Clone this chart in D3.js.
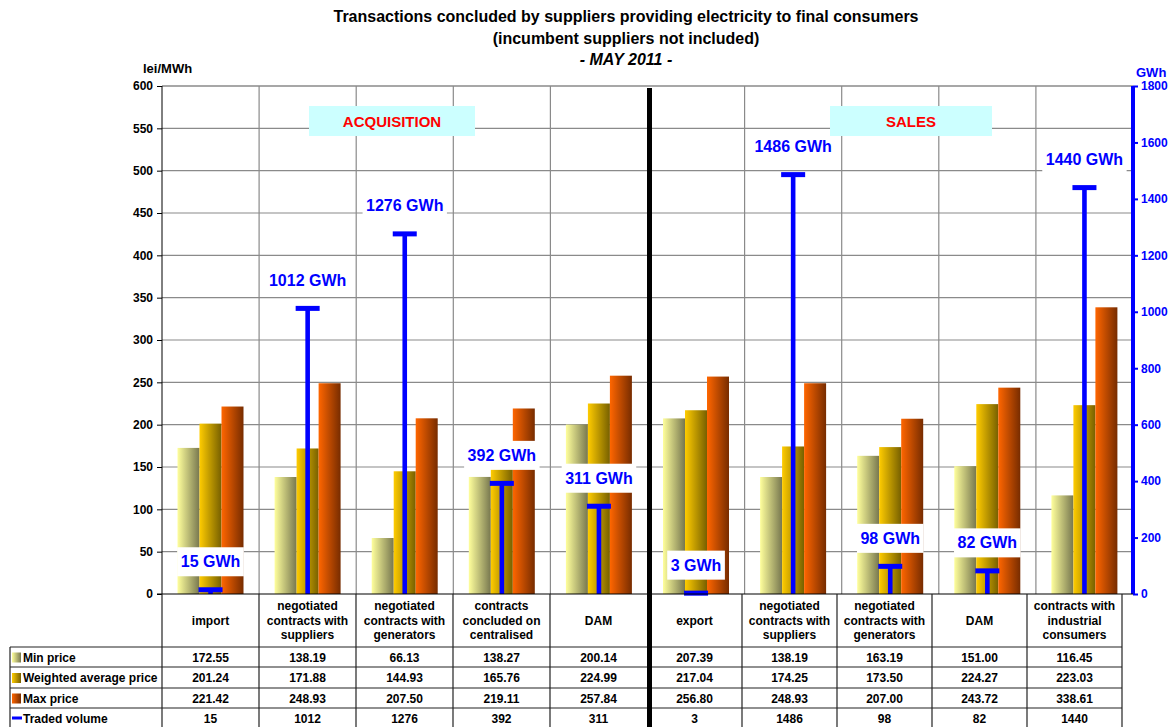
<!DOCTYPE html>
<html>
<head>
<meta charset="utf-8">
<script src="https://cdn.jsdelivr.net/npm/d3@7"></script>
<style>
  html, body { margin: 0; padding: 0; background: #fff; }
  svg { display: block; font-family: "Liberation Sans", Arial, sans-serif; }
</style>
</head>
<body>
<svg id="chart" width="1174" height="727"></svg>
<script>
// ---- data ----
const titleLines = [
  "Transactions concluded by suppliers providing electricity to final consumers",
  "(incumbent suppliers not included)",
  "- MAY 2011 -"
];
const sectionNames = ["ACQUISITION", "SALES"];
const categoryLines = [
  ["import"],
  ["negotiated", "contracts with", "suppliers"],
  ["negotiated", "contracts with", "generators"],
  ["contracts", "concluded on", "centralised"],
  ["DAM"],
  ["export"],
  ["negotiated", "contracts with", "suppliers"],
  ["negotiated", "contracts with", "generators"],
  ["DAM"],
  ["contracts with", "industrial", "consumers"]
];
const seriesNames = ["Min price", "Weighted average price", "Max price", "Traded volume"];
const minPrice = [172.55, 138.19, 66.13, 138.27, 200.14, 207.39, 138.19, 163.19, 151.00, 116.45];
const avgPrice = [201.24, 171.88, 144.93, 165.76, 224.99, 217.04, 174.25, 173.50, 224.27, 223.03];
const maxPrice = [221.42, 248.93, 207.50, 219.11, 257.84, 256.80, 248.93, 207.00, 243.72, 338.61];
const tradedVolume = [15, 1012, 1276, 392, 311, 3, 1486, 98, 82, 1440];
const priceTicks = [0, 50, 100, 150, 200, 250, 300, 350, 400, 450, 500, 550, 600];
const volumeTicks = [0, 200, 400, 600, 800, 1000, 1200, 1400, 1600, 1800];
const leftUnit = "lei/MWh";
const rightUnit = "GWh";

// ---- layout ----
const svg = d3.select("#chart");
const plotLeft = 162, plotRight = 1133, plotTop = 86, plotBottom = 594;
const tableRowTop = 647, rowH = [20, 21, 20, 20];
const blue = "#0000ff", grid = "#8a8a8a";

const idx = d3.range(categoryLines.length);
const x = d3.scaleBand().domain(idx).range([plotLeft, plotRight]);
const priceSeries = [minPrice, avgPrice, maxPrice];
const inner = d3.scaleBand().domain([0, 1, 2]).range([15.5, 81.5]);
const yL = d3.scaleLinear().domain([0, 600]).range([plotBottom, plotTop]);
const yR = d3.scaleLinear().domain([0, 1800]).range([plotBottom, plotTop]);

// table columns: acquisition half and sales half
const tA = d3.scaleBand().domain(d3.range(5)).range([162, 647]);
const tS = d3.scaleBand().domain(d3.range(5)).range([647, 1122]);
const tCol = i => i < 5 ? { x0: tA(i), w: tA.bandwidth() } : { x0: tS(i - 5), w: tS.bandwidth() };

// ---- gradients ----
const defs = svg.append("defs");
const gradColors = [["#ffff9c", "#77774f"], ["#ffcc00", "#776000"], ["#ff6600", "#772c00"]];
gradColors.forEach((c, i) => {
  const g = defs.append("linearGradient").attr("id", "g" + i)
    .attr("x1", 0).attr("x2", 1).attr("y1", 0).attr("y2", 0);
  g.append("stop").attr("offset", "0%").attr("stop-color", c[0]);
  g.append("stop").attr("offset", "100%").attr("stop-color", c[1]);
});

// ---- title ----
const titleY = [22, 44, 65];
svg.selectAll("text.title").data(titleLines).join("text")
  .attr("class", "title")
  .attr("x", 626).attr("y", (d, i) => titleY[i])
  .attr("text-anchor", "middle")
  .attr("font-size", 16).attr("font-weight", "bold")
  .attr("font-style", (d, i) => i === 2 ? "italic" : "normal")
  .text(d => d);

// ---- grid ----
const gGrid = svg.append("g");
gGrid.selectAll("line.h").data(priceTicks.filter(t => t > 0)).join("line")
  .attr("x1", plotLeft).attr("x2", plotRight)
  .attr("y1", d => yL(d)).attr("y2", d => yL(d))
  .attr("stroke", grid).attr("stroke-width", 1.2);
gGrid.selectAll("line.v").data(idx.slice(1).filter(i => i !== 5)).join("line")
  .attr("x1", d => x(d)).attr("x2", d => x(d))
  .attr("y1", plotTop).attr("y2", plotBottom)
  .attr("stroke", grid).attr("stroke-width", 1.2);

// ---- price bars ----
const gBars = svg.append("g");
priceSeries.forEach((vals, s) => {
  gBars.selectAll("rect.s" + s).data(vals).join("rect")
    .attr("x", (d, i) => x(i) + inner(s))
    .attr("width", inner.bandwidth())
    .attr("y", d => yL(d))
    .attr("height", d => yL(0) - yL(d))
    .attr("fill", `url(#g${s})`);
});

// ---- traded volume markers ----
const gVol = svg.append("g");
const cx = i => x(i) + x.bandwidth() / 2;
gVol.selectAll("rect.stem").data(tradedVolume).join("rect")
  .attr("x", (d, i) => cx(i) - 2.3).attr("width", 4.6)
  .attr("y", d => yR(d)).attr("height", d => yR(0) - yR(d))
  .attr("fill", blue);
gVol.selectAll("rect.cap").data(tradedVolume).join("rect")
  .attr("x", (d, i) => cx(i) - 12).attr("width", 24)
  .attr("y", d => yR(d) - 2.5).attr("height", 5)
  .attr("fill", blue);

// labels with white boxes
const gLab = svg.append("g");
tradedVolume.forEach((v, i) => {
  const cy = yR(v) - 28;
  const g = gLab.append("g");
  const box = g.append("rect").attr("fill", "#fff");
  const t = g.append("text")
    .attr("x", cx(i)).attr("y", cy + 5.5)
    .attr("text-anchor", "middle")
    .attr("font-size", 16).attr("font-weight", "bold").attr("fill", blue)
    .text(v + " GWh");
  const w = t.node().getComputedTextLength() + 7;
  box.attr("x", cx(i) - w / 2).attr("width", w).attr("y", cy - 14.5).attr("height", 29);
});

// ---- section headers ----
const sectionBoxes = [{ x0: 309, x1: 475 }, { x0: 830, x1: 992 }];
sectionNames.forEach((name, i) => {
  const b = sectionBoxes[i];
  svg.append("rect").attr("x", b.x0).attr("y", 106).attr("width", b.x1 - b.x0).attr("height", 30)
    .attr("fill", "#ccffff");
  svg.append("text").attr("x", (b.x0 + b.x1) / 2).attr("y", 126.5)
    .attr("text-anchor", "middle").attr("font-size", 15).attr("font-weight", "bold")
    .attr("fill", "#ff0000").text(name);
});

// ---- plot frame and axes ----
svg.append("line").attr("x1", plotLeft).attr("x2", plotRight).attr("y1", plotTop).attr("y2", plotTop)
  .attr("stroke", grid).attr("stroke-width", 1.2);

const axL = svg.append("g").attr("transform", `translate(${plotLeft},0)`)
  .call(d3.axisLeft(yL).tickValues(priceTicks).tickFormat(d3.format("d")).tickSize(5).tickPadding(4));
axL.select(".domain").attr("stroke", "#000").attr("d", `M0,${plotTop}V${plotBottom}`);
axL.selectAll(".tick line").attr("stroke", "#000");
axL.selectAll("text").attr("font-size", 12).attr("font-weight", "bold")
  .attr("font-family", "Liberation Sans, Arial, sans-serif").attr("fill", "#000");

const axR = svg.append("g").attr("transform", `translate(${plotRight},0)`)
  .call(d3.axisRight(yR).tickValues(volumeTicks).tickFormat(d3.format("d")).tickSize(5).tickPadding(3));
axR.select(".domain").attr("stroke", blue).attr("stroke-width", 4).attr("d", `M0,${plotTop}V${plotBottom}`);
axR.selectAll(".tick line").attr("stroke", blue).attr("stroke-width", 2);
axR.selectAll("text").attr("font-size", 12).attr("font-weight", "bold")
  .attr("font-family", "Liberation Sans, Arial, sans-serif").attr("fill", blue);

svg.append("text").attr("x", 143).attr("y", 73).attr("font-size", 13).attr("font-weight", "bold")
  .text(leftUnit);
svg.append("text").attr("x", 1136).attr("y", 77).attr("font-size", 13).attr("font-weight", "bold")
  .attr("fill", blue).text(rightUnit);

// baseline
svg.append("line").attr("x1", plotLeft - 5).attr("x2", plotRight).attr("y1", plotBottom).attr("y2", plotBottom)
  .attr("stroke", "#000").attr("stroke-width", 1.2);

// ---- data table ----
const gT = svg.append("g");
const lineC = "#222";
const rowTops = [tableRowTop];
rowH.forEach(h => rowTops.push(rowTops[rowTops.length - 1] + h));
// horizontal rules
rowTops.forEach(y => {
  gT.append("line").attr("x1", 10).attr("x2", 1122).attr("y1", y).attr("y2", y)
    .attr("stroke", lineC).attr("stroke-width", 1.2);
});
// vertical rules
gT.append("line").attr("x1", 10).attr("x2", 10).attr("y1", tableRowTop).attr("y2", 727)
  .attr("stroke", lineC).attr("stroke-width", 1.2);
const colEdges = [162, ...d3.range(1, 5).map(i => tA(i)), ...d3.range(1, 5).map(i => tS(i)), 1122];
colEdges.forEach(xe => {
  gT.append("line").attr("x1", xe).attr("x2", xe).attr("y1", plotBottom).attr("y2", 727)
    .attr("stroke", lineC).attr("stroke-width", 1.2);
});

// category headers
idx.forEach(i => {
  const c = tCol(i);
  const lines = categoryLines[i];
  const lh = 14.5, mid = 620;
  const t = gT.append("text").attr("text-anchor", "middle").attr("font-size", 12).attr("font-weight", "bold");
  lines.forEach((ln, k) => {
    t.append("tspan").attr("x", c.x0 + c.w / 2)
      .attr("y", mid + (k - (lines.length - 1) / 2) * lh + 4.5).text(ln);
  });
});

// value rows
const rowValues = [minPrice, avgPrice, maxPrice, tradedVolume];
const fmt2 = d3.format(".2f");
rowValues.forEach((vals, r) => {
  const yc = (rowTops[r] + rowTops[r] + rowH[r]) / 2;
  vals.forEach((v, i) => {
    const c = tCol(i);
    gT.append("text").attr("x", c.x0 + c.w / 2).attr("y", yc + 4.5)
      .attr("text-anchor", "middle").attr("font-size", 12).attr("font-weight", "bold")
      .text(r === 3 ? v : fmt2(v));
  });
  // legend key
  if (r < 3) {
    gT.append("rect").attr("x", 12).attr("y", yc - 4.5).attr("width", 9).attr("height", 10)
      .attr("fill", `url(#g${r})`);
  } else {
    gT.append("rect").attr("x", 12).attr("y", yc - 1.5).attr("width", 10).attr("height", 3).attr("fill", blue);
  }
  gT.append("text").attr("x", 23).attr("y", yc + 4.5).attr("font-size", 12).attr("font-weight", "bold")
    .text(seriesNames[r]);
});

// section divider
svg.append("rect").attr("x", 647).attr("y", 88).attr("width", 5).attr("height", 727 - 88).attr("fill", "#000");
</script>
</body>
</html>
